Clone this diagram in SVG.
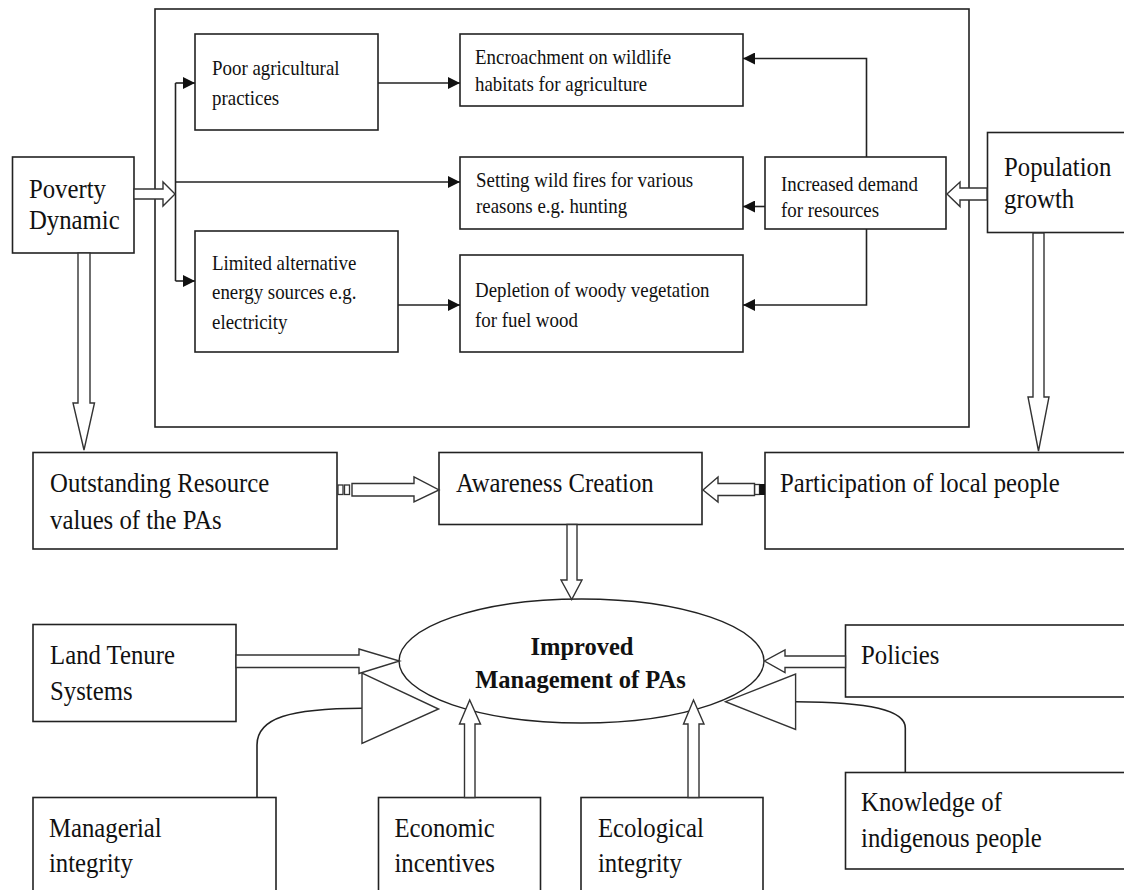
<svg xmlns="http://www.w3.org/2000/svg" width="1124" height="890" viewBox="0 0 1124 890">
<style>
.box{fill:#fff;stroke:#222;stroke-width:1.6}
.frame{fill:none;stroke:#222;stroke-width:1.6}
.t{font-family:"Liberation Serif","Times New Roman",serif;fill:#111}
.lg{font-size:27.5px}
.sm{font-size:21px}
.bd{font-size:24.5px;font-weight:bold}
.ln{fill:none;stroke:#222;stroke-width:1.6}
.blk{fill:#fff;stroke:#333;stroke-width:1.4;stroke-linejoin:miter}
</style>
<defs>
<marker id="ah" markerUnits="userSpaceOnUse" markerWidth="13" markerHeight="12" refX="12" refY="6" orient="auto">
<path d="M0,0 L12,6 L0,12 z" fill="#111"/>
</marker>
</defs>
<rect width="1124" height="890" fill="#fff"/>

<g id="frame"><rect class="frame" x="155" y="9" width="814" height="418"/></g>

<g id="poverty"><rect class="box" x="12.5" y="157" width="121.5" height="96"/>
<g transform="scale(0.9 1)"><text class="t lg" x="32.2" y="198">Poverty</text><text class="t lg" x="32.2" y="229">Dynamic</text></g></g>

<g id="poor"><rect class="box" x="195" y="34" width="183" height="96"/>
<g transform="scale(0.9 1)"><text class="t sm" x="235.6" y="75">Poor agricultural</text><text class="t sm" x="235.6" y="105">practices</text></g></g>

<g id="encroach"><rect class="box" x="460" y="34" width="283" height="72"/>
<g transform="scale(0.9 1)"><text class="t sm" x="527.8" y="64">Encroachment on wildlife</text><text class="t sm" x="527.8" y="91">habitats for agriculture</text></g></g>

<g id="fires"><rect class="box" x="460" y="157" width="283" height="72"/>
<g transform="scale(0.9 1)"><text class="t sm" x="528.9" y="187">Setting wild fires  for various</text><text class="t sm" x="528.9" y="213">reasons e.g. hunting</text></g></g>

<g id="limited"><rect class="box" x="195" y="231" width="203" height="121"/>
<g transform="scale(0.9 1)"><text class="t sm" x="235.6" y="270">Limited alternative</text><text class="t sm" x="235.6" y="299">energy sources e.g.</text><text class="t sm" x="235.6" y="329">electricity</text></g></g>

<g id="depletion"><rect class="box" x="460" y="255" width="283" height="97"/>
<g transform="scale(0.9 1)"><text class="t sm" x="527.8" y="297">Depletion of woody vegetation</text><text class="t sm" x="527.8" y="327">for fuel wood</text></g></g>

<g id="demand"><rect class="box" x="765" y="157" width="181" height="72"/>
<g transform="scale(0.9 1)"><text class="t sm" x="867.8" y="191">Increased demand</text><text class="t sm" x="867.8" y="217">for resources</text></g></g>

<g id="population"><rect class="box" x="987.5" y="132.5" width="150" height="100"/>
<g transform="scale(0.9 1)"><text class="t lg" x="1115.6" y="176">Population</text><text class="t lg" x="1115.6" y="208">growth</text></g></g>

<g id="outstanding"><rect class="box" x="33" y="452.5" width="304" height="96.5"/>
<g transform="scale(0.9 1)"><text class="t lg" x="55.6" y="492">Outstanding Resource</text><text class="t lg" x="55.6" y="529">values of the PAs</text></g></g>

<g id="awareness"><rect class="box" x="439" y="452.5" width="263" height="72"/>
<g transform="scale(0.9 1)"><text class="t lg" x="506.7" y="492">Awareness Creation</text></g></g>

<g id="participation"><rect class="box" x="765" y="452.5" width="370" height="96.5"/>
<g transform="scale(0.9 1)"><text class="t lg" x="866.7" y="492">Participation of local people</text></g></g>

<g id="landtenure"><rect class="box" x="33" y="624.5" width="203" height="97"/>
<g transform="scale(0.9 1)"><text class="t lg" x="55.6" y="664">Land Tenure</text><text class="t lg" x="55.6" y="700">Systems</text></g></g>

<g id="policies"><rect class="box" x="845.5" y="625" width="290" height="72"/>
<g transform="scale(0.9 1)"><text class="t lg" x="956.7" y="664">Policies</text></g></g>

<g id="managerial"><rect class="box" x="33" y="797.5" width="243" height="120"/>
<g transform="scale(0.9 1)"><text class="t lg" x="54.4" y="837">Managerial</text><text class="t lg" x="54.4" y="872">integrity</text></g></g>

<g id="economic"><rect class="box" x="378.5" y="797.5" width="162" height="120"/>
<g transform="scale(0.9 1)"><text class="t lg" x="438.3" y="837">Economic</text><text class="t lg" x="438.3" y="872">incentives</text></g></g>

<g id="ecological"><rect class="box" x="581" y="797.5" width="182" height="120"/>
<g transform="scale(0.9 1)"><text class="t lg" x="664.4" y="837">Ecological</text><text class="t lg" x="664.4" y="872">integrity</text></g></g>

<g id="knowledge"><rect class="box" x="845.5" y="772.5" width="290" height="96.5"/>
<g transform="scale(0.9 1)"><text class="t lg" x="956.7" y="811">Knowledge of</text><text class="t lg" x="956.7" y="847">indigenous people</text></g></g>

<g id="improved"><ellipse cx="581.5" cy="661" rx="182.5" ry="62" fill="#fff" stroke="#222" stroke-width="1.4"/>
<text class="t bd" x="582" y="655" text-anchor="middle">Improved</text><text class="t bd" x="580.5" y="688" text-anchor="middle">Management of PAs</text></g>

<g id="connectors">
<path class="ln" d="M175.5,83 V281"/>
<path class="ln" d="M175.5,83 H195" marker-end="url(#ah)"/>
<path class="ln" d="M175.5,281 H195" marker-end="url(#ah)"/>
<path class="ln" d="M175.5,182 H460" marker-end="url(#ah)"/>
<path class="ln" d="M378,83 H460" marker-end="url(#ah)"/>
<path class="ln" d="M398,305 H460" marker-end="url(#ah)"/>
<path class="ln" d="M866.5,157 V58.5 H743" marker-end="url(#ah)"/>
<path class="ln" d="M765,206.5 H743" marker-end="url(#ah)"/>
<path class="ln" d="M866.5,229 V305 H743" marker-end="url(#ah)"/>

<polygon class="blk" points="134,189 163,189 163,182 175,194 163,206 163,199 134,199"/>
<polygon class="blk" points="987,188 960,188 960,182 947,194 960,206.5 960,200 987,200"/>
<polygon class="blk" points="78,253 78,403 73,403 84,450 94.5,403 90,403 90,253"/>
<polygon class="blk" points="1033,233 1033,397 1028,397 1038.5,451 1049,397 1044,397 1044,233"/>

<rect x="338" y="485" width="5" height="9.5" fill="#fff" stroke="#333" stroke-width="1.3"/>
<rect x="344.5" y="485" width="5" height="9.5" fill="#fff" stroke="#333" stroke-width="1.3"/>
<polygon class="blk" points="352,483.5 414,483.5 414,477 439,490 414,502 414,496 352,496"/>

<rect x="754.5" y="484.5" width="5" height="10" fill="#fff" stroke="#333" stroke-width="1.3"/>
<rect x="759.5" y="484" width="5.5" height="11" fill="#111"/>
<polygon class="blk" points="754.5,483.5 718,483.5 718,477 703,490 718,502 718,495.5 754.5,495.5"/>

<polygon class="blk" points="567,524.5 567,580 561,580 571.7,599.5 582,580 577,580 577,524.5"/>

<polygon class="blk" points="236,655 359,655 359,649 399.5,661 359,673.5 359,667.5 236,667.5"/>
<polygon class="blk" points="845.5,656 785,656 785,650 764.5,661 785,672.5 785,667.5 845.5,667.5"/>

<polygon class="blk" points="464.5,797.5 464.5,724 459.5,724 469.7,700 480.5,724 475,724 475,797.5"/>
<polygon class="blk" points="688,797.5 688,724 683.5,724 693.5,700 704,724 699,724 699,797.5"/>

<path class="ln" d="M257,797.5 V745 C257,718 290,708.5 362,708.3"/>
<polygon class="blk" points="362,673 362,743.5 438.6,709"/>

<path class="ln" d="M905.3,772.5 V728 C905.3,710 870,702 795.6,701.7"/>
<polygon class="blk" points="795.6,674 795.6,729.5 725.5,701.7"/>
</g>
</svg>
